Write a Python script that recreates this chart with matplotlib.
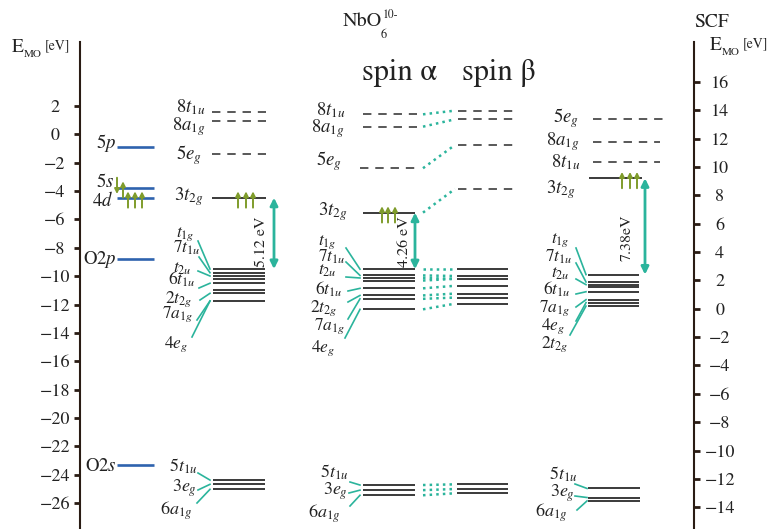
import matplotlib
matplotlib.use("Agg")
import matplotlib.pyplot as plt

plt.rcParams["font.family"] = "STIXGeneral"
plt.rcParams["mathtext.fontset"] = "stix"

# ---------------- datos: energias de orbitales [eV] ----------------
# orbitales atomicos (eje izquierdo)
ao_lab = [r"$5p$", r"$5s$", r"$4d$", r"O$2p$", r"O$2s$"]
ao_e = [-0.9, -3.76, -4.47, -8.79, -23.32]

# NbO6(10-), eje izquierdo
up_lab = [r"$8t_{1u}$", r"$8a_{1g}$", r"$5e_{g}$", r"$3t_{2g}$"]
nb_up = [1.58, 0.94, -1.39, -4.47]
mid_lab = [r"$t_{1g}$", r"$7t_{1u}$", r"$t_{2u}$", r"$6t_{1u}$",
           r"$2t_{2g}$", r"$7a_{1g}$", r"$4e_{g}$"]
nb_mid = [-9.50, -9.76, -9.99, -10.22, -10.50, -11.00, -11.21, -11.75]
low_lab = [r"$5t_{1u}$", r"$3e_{g}$", r"$6a_{1g}$"]
nb_low = [-24.38, -24.68, -25.03]

# spin alpha / spin beta
a_up = [1.41, 0.54, -2.39, -5.52]
a_mid = [-9.51, -9.95, -10.13, -10.31, -10.86, -11.36, -11.60, -12.34]
a_low = [-24.73, -25.09, -25.45]
b_up = [1.67, 1.06, -0.75, -3.85]
b_mid = [-9.51, -9.99, -10.19, -10.68, -11.23, -11.51, -11.94]
b_low = [-24.68, -25.01, -25.31]
ab_pairs = [(0, 0), (1, 1), (2, 2), (3, 2), (4, 3), (5, 4), (6, 5), (7, 6)]

# SCF, eje derecho
scf_up_lab = [r"$5e_{g}$", r"$8a_{1g}$", r"$8t_{1u}$", r"$3t_{2g}$"]
scf_up = [13.37, 11.74, 10.38, 9.20]
scf_mid_lab = [r"$t_{1g}$", r"$7t_{1u}$", r"$t_{2u}$", r"$6t_{1u}$",
               r"$7a_{1g}$", r"$4e_{g}$", r"$2t_{2g}$"]
scf_mid = [2.41, 1.89, 1.70, 1.51, 1.20, 0.64, 0.43, 0.19]
scf_low = [-12.67, -13.31, -13.55]

gap_lab = ["5.12 eV", "4.26 eV", "7.38eV"]
left_ticks = list(range(2, -27, -2))
right_ticks = list(range(16, -15, -2))
SHIFT = 12.3  # eje derecho = eje izquierdo + SHIFT

# ---------------- layout ----------------
W, H, TOP = 772, 529, 42
E_TOP, E_BOT = 6.51, -27.83
DK, BL, TE, OL, TX = "#2b2b2b", "#2e63ae", "#2bb49c", "#7f9c2b", "#222222"
DASH = (0, (5.5, 4.5))

fig = plt.figure(figsize=(W / 100, H / 100), dpi=100)
ax = fig.add_axes([80 / W, 0, 614 / W, (H - TOP) / H])
ax.set_xlim(80, 694); ax.set_ylim(E_BOT, E_TOP)
ax2 = ax.twinx(); ax2.set_ylim(E_BOT + SHIFT, E_TOP + SHIFT)
for a in (ax, ax2):
    for s in ("top", "bottom"):
        a.spines[s].set_visible(False)
    a.set_xticks([])
ax.spines["right"].set_visible(False); ax2.spines["left"].set_visible(False)
ax.spines["left"].set_color("#2a1c14"); ax2.spines["right"].set_color("#2a1c14")
ax.spines["left"].set_linewidth(1.5); ax2.spines["right"].set_linewidth(1.5)
ax.set_yticks(left_ticks); ax2.set_yticks(right_ticks)
ax.tick_params(axis="y", direction="out", length=4.5, width=2, labelsize=13, pad=13.5, colors="#2a1c14", labelcolor=TX)
ax2.tick_params(axis="y", direction="out", length=4.5, width=2, labelsize=13, pad=14, colors="#2a1c14", labelcolor=TX)
plt.setp(ax.get_yticklabels(), ha="center"); plt.setp(ax2.get_yticklabels(), ha="center")


def ey(py):  # pixel y -> energia (eje izq.)
    return E_TOP - (py - TOP) * (E_TOP - E_BOT) / (H - TOP)


def txt(x, y, s, **kw):
    kw.setdefault("ha", "right"); kw.setdefault("va", "baseline"); kw.setdefault("fontsize", 12.5)
    fig.text(x / W, 1 - y / H, s, color=TX, **kw)


def lev(x0, x1, es, ls="-", c=DK, lw=1.3):
    ax.hlines(es, x0, x1, colors=c, linestyles=ls, lw=lw)


def spin(xs, e, up=True):
    for x in xs:
        a, b = (e - 0.7, e + 0.45) if up else (e + 0.7, e - 0.45)
        ax.annotate("", xy=(x, b), xytext=(x, a),
                    arrowprops=dict(arrowstyle="-|>", color=OL, lw=1.4, mutation_scale=7, shrinkA=0, shrinkB=0))


def gap(x, e0, e1, lab, lx, ly):
    ax.annotate("", xy=(x, e1), xytext=(x, e0),
                arrowprops=dict(arrowstyle="<|-|>", color=TE, lw=2, mutation_scale=11, shrinkA=0, shrinkB=0))
    txt(lx, ly, lab, rotation=90, ha="center", va="center", fontsize=11.5)


def conn(starts, xe, es, idx):
    for (sx, sy), i in zip(starts, idx):
        ax.plot([sx, xe], [ey(sy), es[i]], color=TE, lw=1.2)


def labels(names, pos, **kw):
    for s, (x, y) in zip(names, pos):
        txt(x, y, s, **kw)


# orbitales atomicos
lev(117, 154, ao_e, c=BL, lw=1.9)
labels(ao_lab, [(116, 148), (114, 187), (113, 206), (117, 264), (117, 471)], fontsize=13.5)
spin([117], ao_e[1], up=False); spin([123], ao_e[1])
spin([128, 135, 142], ao_e[2])

# NbO6 10-
lev(212, 266, nb_up[:3], ls=DASH, lw=1.1); lev(212, 266, nb_up[3:])
lev(213, 265, nb_mid); lev(213, 265, nb_low)
labels(up_lab, [(205, 112), (206, 130), (202, 159), (203, 200)], fontsize=13.5)
labels(mid_lab, [(195, 237), (200, 253), (192, 273), (195, 285), (192, 303), (193, 318), (188, 348)])
labels(low_lab, [(197, 472), (197, 492), (192, 515)], fontsize=13)
conn([(198, 241), (199, 257), (198, 271), (199, 288), (200, 300), (197, 320), (192, 337)], 210, nb_mid, [0, 1, 2, 4, 6, 7, 7])
conn([(198, 473), (198, 490), (197, 503)], 210, nb_low, [0, 1, 2])
spin([238, 246, 253], nb_up[3])
gap(274, nb_up[3], nb_mid[0], gap_lab[0], 261, 242)

# spin alpha
lev(363, 417, a_up[:2], ls=DASH, lw=1.1); lev(360, 415, a_up[2:3], ls=DASH, lw=1.1)
lev(363, 415, a_up[3:]); lev(363, 415, a_mid); lev(363, 415, a_low)
labels(up_lab, [(345, 115), (345, 132), (342, 165), (347, 215)], fontsize=13.5)
labels(mid_lab, [(337, 245), (345, 262), (337, 275), (342, 295), (337, 312), (345, 330), (335, 352)])
labels(low_lab, [(348, 478), (348, 495), (340, 518)], fontsize=13)
conn([(346, 248), (346, 262), (346, 277), (348, 291), (348, 302), (348, 319), (345, 338)], 360, a_mid, [0, 1, 2, 4, 5, 6, 7])
conn([(350, 482), (349, 493), (350, 506)], 360, a_low, [0, 1, 2])
spin([382, 388, 395], a_up[3])
gap(415, a_up[3], a_mid[0], gap_lab[1], 404, 242)

# spin beta
lev(458, 513, b_up, ls=DASH, lw=1.1)
lev(457, 508, b_mid); lev(457, 508, b_low)
for ea, eb in zip(a_up, b_up):
    ax.plot([423, 455], [ea, eb], color=TE, lw=1.8, ls=":")
for i, j in ab_pairs:
    ax.plot([423, 455], [a_mid[i], b_mid[j]], color=TE, lw=1.8, ls=":")
for ea, eb in zip(a_low, b_low):
    ax.plot([423, 455], [ea, eb], color=TE, lw=1.8, ls=":")

# SCF (eje derecho)
s_up = [v - SHIFT for v in scf_up]
s_mid = [v - SHIFT for v in scf_mid]
s_low = [v - SHIFT for v in scf_low]
lev(593, 667, s_up[:1], ls=DASH, lw=1.1); lev(593, 660, s_up[1:3], ls=DASH, lw=1.1)
lev(589, 642, s_up[3:]); lev(588, 639, s_mid); lev(588, 640, s_low)
labels(scf_up_lab, [(579, 122), (580, 145), (580, 167), (575, 193)], fontsize=13.5)
labels(scf_mid_lab, [(570, 243), (572, 262), (570, 278), (570, 295), (570, 312), (565, 330), (568, 348)])
labels(low_lab, [(577, 480), (575, 497), (567, 517)], fontsize=13)
conn([(576, 248), (576, 263), (576, 279), (576, 294), (576, 307), (576, 321), (570, 335)], 586, s_mid, [0, 1, 2, 4, 5, 6, 7])
conn([(575, 484), (575, 496), (577, 510)], 587, s_low, [0, 1, 2])
spin([622, 630, 637], s_up[3])
gap(645, s_up[3], s_mid[0], gap_lab[2], 627, 238)

# textos
txt(343, 26, "NbO", ha="left", fontsize=14.5)
txt(381, 38, "6", ha="left", fontsize=9)
txt(383, 18, "10-", ha="left", fontsize=8.5)
txt(362, 80, "spin α", ha="left", fontsize=22)
txt(462, 80, "spin β", ha="left", fontsize=22)
txt(694, 27, "SCF", ha="left", fontsize=14)
for x0, y0 in [(12, 52), (710, 50)]:
    txt(x0, y0, "E", ha="left", fontsize=14)
    txt(x0 + 12, y0 + 5, "MO", ha="left", fontsize=8)
    txt(x0 + 33, y0 - 3, "[eV]", ha="left", fontsize=10)

fig.savefig("out.png", dpi=100)
